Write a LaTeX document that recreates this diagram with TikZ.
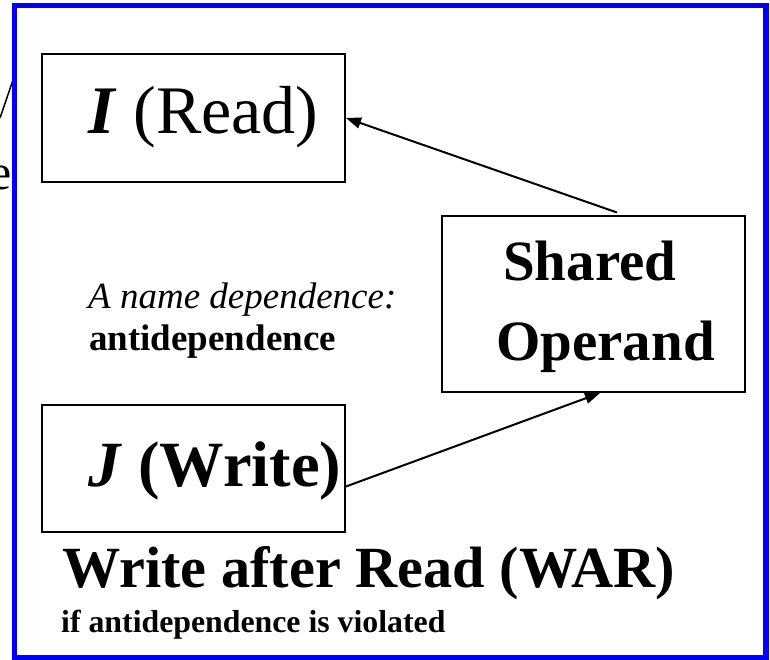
\documentclass[tikz,border=0pt]{standalone}
\usepackage{fontspec}
\setmainfont{Liberation Serif}
\usetikzlibrary{arrows.meta}
\begin{document}
\begin{tikzpicture}[x=1pt,y=-1pt,
  box/.style={draw=black, line width=2pt, inner sep=0pt, minimum width=303pt},
  lbl/.style={inner sep=0pt, anchor=base west},
  arr/.style={line width=2pt, -{Triangle[length=15pt,width=11pt]}}]
  \useasboundingbox (0,0) rectangle (770,660);
  \fill[white] (0,0) rectangle (770,660);

  % fragments of neighbouring content, cut at the frame
  \begin{scope}
    \clip (0,0) rectangle (12,660);
    \draw[line width=1.5pt] (0,118) -- (13,80);
    \node[inner sep=0pt, anchor=base east, font=\fontsize{50}{60}\selectfont] (frag) at (12,190) {e};
  \end{scope}

  % frame
  \draw[blue, line width=5.5pt] (14.5,5.5) rectangle (766,657.5);

  % boxes
  \node[box, minimum height=128pt] (I) at (193.5,118) {};
  \node[box, minimum height=127pt] (J) at (193.5,468.5) {};
  \node[box, minimum height=175.5pt] (S) at (593.5,304.25) {};

  % box labels
  \node[lbl, font=\fontsize{68}{74}\selectfont] (Itxt) at (88,134) {\bfseries\itshape I\/\mdseries\upshape{} (Read)};
  \node[lbl, font=\fontsize{64.5}{70}\selectfont\bfseries] (Jtxt) at (88,486) {\itshape J\/\upshape{} (Write)};
  \node[lbl, font=\fontsize{57}{66}\selectfont\bfseries] (Sh) at (503,280) {Shared};
  \node[lbl, font=\fontsize{57}{66}\selectfont\bfseries] (Op) at (496,360) {Operand};

  % free text
  \node[lbl, font=\fontsize{37}{42}\selectfont\itshape] (nd) at (88,308) {A name dependence:};
  \node[lbl, font=\fontsize{37}{42}\selectfont\bfseries] (ad) at (89,350) {antidependence};
  \node[lbl, font=\fontsize{58.3}{66}\selectfont\bfseries] (war) at (62,587) {Write after Read (WAR)};
  \node[lbl, font=\fontsize{31.8}{36}\selectfont\bfseries] (viol) at (61,632) {if antidependence is violated};

  % connectors
  \draw[arr] ([xshift=23.5pt,yshift=3pt]S.north) -- (I.east);
  \draw[arr] ([yshift=-18pt]J.east) -- ([xshift=6.5pt]S.south);
\end{tikzpicture}
\end{document}
